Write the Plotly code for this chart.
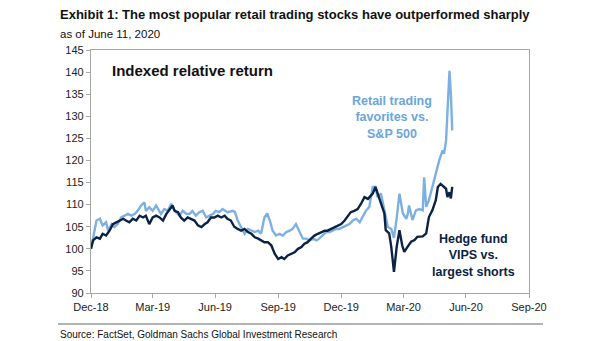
import plotly.graph_objects as go

# ---------------- data ----------------
retail_dates = [
    "2018-12-31", "2019-01-08", "2019-01-13", "2019-01-17", "2019-01-22", "2019-01-25", "2019-01-30",
    "2019-02-03", "2019-02-08", "2019-02-13", "2019-02-18", "2019-02-23", "2019-02-28", "2019-03-05",
    "2019-03-09", "2019-03-14", "2019-03-19", "2019-03-21", "2019-03-26", "2019-03-31", "2019-04-05",
    "2019-04-08", "2019-04-12", "2019-04-17", "2019-04-22", "2019-04-27", "2019-04-29", "2019-05-04",
    "2019-05-09", "2019-05-14", "2019-05-19", "2019-05-24", "2019-05-28", "2019-06-02", "2019-06-07",
    "2019-06-12", "2019-06-17", "2019-06-22", "2019-06-27", "2019-07-01", "2019-07-06", "2019-07-11",
    "2019-07-18", "2019-07-26", "2019-07-29", "2019-08-02", "2019-08-07", "2019-08-12", "2019-08-17",
    "2019-08-22", "2019-08-27", "2019-09-01", "2019-09-05", "2019-09-10", "2019-09-14", "2019-09-18",
    "2019-09-22", "2019-09-27", "2019-10-02", "2019-10-07", "2019-10-12", "2019-10-17", "2019-10-21",
    "2019-10-26", "2019-10-31", "2019-11-05", "2019-11-10", "2019-11-15", "2019-11-20", "2019-11-25",
    "2019-11-29", "2019-12-04", "2019-12-09", "2019-12-14", "2019-12-19", "2019-12-24", "2019-12-28",
    "2020-01-02", "2020-01-07", "2020-01-12", "2020-01-17", "2020-01-22", "2020-01-27", "2020-01-31",
    "2020-02-05", "2020-02-10", "2020-02-15", "2020-02-19", "2020-02-22", "2020-02-27", "2020-03-03",
    "2020-03-08", "2020-03-13", "2020-03-17", "2020-03-21", "2020-03-25", "2020-03-30", "2020-04-04",
    "2020-04-06", "2020-04-08", "2020-04-13", "2020-04-18", "2020-04-23", "2020-04-28", "2020-04-30",
    "2020-05-03", "2020-05-07", "2020-05-12", "2020-05-17", "2020-05-22", "2020-05-27", "2020-05-29",
    "2020-06-01", "2020-06-03", "2020-06-06", "2020-06-08", "2020-06-10",
]
retail_values = [
    100.0, 106.4, 106.8, 105.3, 106.0, 104.1, 105.6,
    104.9, 105.6, 107.1, 107.5, 107.9, 107.5, 107.9,
    108.6, 109.8, 110.5, 108.6, 109.4, 108.6, 109.8,
    109.0, 107.9, 109.0, 108.6, 110.2, 109.4, 108.3,
    107.5, 108.6, 107.9, 107.9, 108.6, 107.5, 108.3,
    108.6, 107.1, 107.5, 107.9, 108.6, 108.3, 109.0,
    108.3, 108.6, 108.3, 106.4, 104.9, 103.4, 104.5,
    104.1, 103.8, 104.1, 103.4, 107.1, 108.0, 106.4,
    104.1, 103.0, 103.4, 103.0, 103.8, 104.1, 104.5,
    105.6, 103.8, 102.3, 102.3, 101.9, 102.3, 101.9,
    102.3, 103.0, 103.8, 103.8, 104.1, 104.5, 104.5,
    104.9, 105.3, 105.6, 106.4, 106.8, 106.0, 107.1,
    108.6, 109.5, 114.0, 114.0, 111.7, 112.5, 108.7,
    105.0, 104.5, 102.5, 107.0, 112.5, 108.0, 106.8,
    107.8, 109.8, 106.5, 108.7, 109.0, 108.7, 116.2,
    109.5, 111.0, 114.0, 117.0, 120.0, 122.3, 121.5,
    124.5, 131.3, 140.3, 135.0, 126.8,
]

hedge_dates = [
    "2018-12-31", "2019-01-03", "2019-01-08", "2019-01-13", "2019-01-17", "2019-01-22", "2019-01-27",
    "2019-02-01", "2019-02-06", "2019-02-11", "2019-02-16", "2019-02-20", "2019-02-25", "2019-03-02",
    "2019-03-07", "2019-03-12", "2019-03-17", "2019-03-21", "2019-03-26", "2019-03-31", "2019-04-05",
    "2019-04-10", "2019-04-15", "2019-04-20", "2019-04-25", "2019-04-29", "2019-05-02", "2019-05-07",
    "2019-05-11", "2019-05-16", "2019-05-21", "2019-05-26", "2019-05-31", "2019-06-05", "2019-06-10",
    "2019-06-15", "2019-06-19", "2019-06-24", "2019-06-29", "2019-07-04", "2019-07-09", "2019-07-14",
    "2019-07-18", "2019-07-23", "2019-07-28", "2019-08-02", "2019-08-07", "2019-08-12", "2019-08-17",
    "2019-08-22", "2019-08-27", "2019-09-01", "2019-09-05", "2019-09-10", "2019-09-15", "2019-09-20",
    "2019-09-25", "2019-09-30", "2019-10-05", "2019-10-09", "2019-10-14", "2019-10-19", "2019-10-24",
    "2019-10-29", "2019-11-03", "2019-11-07", "2019-11-12", "2019-11-17", "2019-11-22", "2019-11-27",
    "2019-12-02", "2019-12-07", "2019-12-11", "2019-12-16", "2019-12-21", "2019-12-26", "2019-12-31",
    "2020-01-05", "2020-01-10", "2020-01-14", "2020-01-19", "2020-01-24", "2020-01-29", "2020-02-03",
    "2020-02-08", "2020-02-15", "2020-02-19", "2020-02-22", "2020-02-27", "2020-03-03", "2020-03-05",
    "2020-03-10", "2020-03-13", "2020-03-17", "2020-03-21", "2020-03-25", "2020-03-29", "2020-04-01",
    "2020-04-06", "2020-04-11", "2020-04-16", "2020-04-20", "2020-04-28", "2020-05-03", "2020-05-07",
    "2020-05-12", "2020-05-17", "2020-05-20", "2020-05-24", "2020-05-29", "2020-06-01", "2020-06-03",
    "2020-06-06", "2020-06-08", "2020-06-10",
]
hedge_values = [
    100.0, 101.9, 102.6, 102.3, 103.4, 103.0, 104.1,
    105.6, 106.0, 106.4, 106.8, 106.4, 106.0, 106.8,
    106.4, 107.5, 107.1, 107.5, 105.6, 107.1, 107.5,
    107.1, 106.4, 107.9, 109.0, 109.8, 108.6, 108.3,
    107.1, 106.4, 107.1, 106.8, 106.4, 105.3, 104.9,
    105.6, 106.0, 107.1, 107.1, 107.5, 107.1, 107.5,
    106.8, 106.4, 105.0, 104.5, 104.1, 104.5, 103.8,
    103.4, 102.6, 102.3, 101.9, 101.5, 101.5, 100.8,
    98.9, 97.7, 98.1, 97.7, 98.5, 98.9, 99.2,
    100.0, 100.4, 101.1, 101.5, 102.3, 103.0, 103.4,
    103.8, 104.1, 104.1, 104.5, 104.9, 105.3, 105.6,
    106.4, 107.5, 108.3, 108.6, 109.0, 110.2, 111.7,
    111.3, 112.5, 114.0, 112.5, 110.2, 108.0, 104.2,
    103.5, 100.5, 94.8, 100.5, 104.2, 100.8, 99.3,
    100.5, 101.6, 102.0, 102.7, 102.8, 103.5, 107.2,
    108.7, 111.0, 114.0, 114.7, 114.0, 113.6, 111.7,
    112.8, 111.4, 114.0,
]

tick_dates = ["2018-12-31", "2019-03-31", "2019-06-30", "2019-09-30",
              "2019-12-31", "2020-03-31", "2020-06-30", "2020-09-30"]
tick_labels = ["Dec-18", "Mar-19", "Jun-19", "Sep-19", "Dec-19", "Mar-20", "Jun-20", "Sep-20"]

title_text = "Exhibit 1: The most popular retail trading stocks have outperformed sharply"
subtitle_text = "as of June 11, 2020"
inner_title = "Indexed relative return"
retail_label = "Retail trading<br>favorites vs.<br>S&amp;P 500"
hedge_label = "Hedge fund<br>VIPS vs.<br>largest shorts"
source_text = "Source: FactSet, Goldman Sachs Global Investment Research"

# ---------------- styling ----------------
W, H = 605, 341
L, R, T, B = 91, 529, 50, 293
LIGHT = "#7CB0E3"
LIGHT_TXT = "#6AA5DD"
NAVY = "#0C2244"
FONT = "Arial, 'Liberation Sans', sans-serif"
AXIS = "#A6A6A6"


def px(x):
    return (x - L) / (R - L)


def py(y):
    return (B - y) / (B - T)


fig = go.Figure()
fig.add_trace(go.Scatter(x=retail_dates, y=retail_values, mode="lines",
                         line=dict(color=LIGHT, width=2.4), hoverinfo="skip"))
fig.add_trace(go.Scatter(x=hedge_dates, y=hedge_values, mode="lines",
                         line=dict(color=NAVY, width=2.4), hoverinfo="skip"))

fig.update_layout(
    width=W, height=H, showlegend=False,
    margin=dict(l=L, r=W - R, t=T, b=H - B, pad=0),
    paper_bgcolor="white", plot_bgcolor="white",
    font=dict(family=FONT, size=11, color="#222222"),
    xaxis=dict(
        type="date", range=["2018-12-31", "2020-09-30"],
        tickmode="array", tickvals=tick_dates, ticktext=tick_labels,
        showgrid=False, zeroline=False,
        showline=True, linecolor=AXIS, linewidth=1.3, mirror=True,
        ticks="outside", ticklen=4, tickcolor=AXIS, tickwidth=1,
        tickfont=dict(size=11, color="#222222"),
    ),
    yaxis=dict(
        range=[90, 145], tickmode="linear", tick0=90, dtick=5,
        showgrid=False, zeroline=False,
        showline=True, linecolor=AXIS, linewidth=1.3, mirror=True,
        ticks="outside", ticklen=4, tickcolor=AXIS, tickwidth=1,
        tickfont=dict(size=11, color="#222222"),
    ),
)

ann = []
ann.append(dict(text="<b>" + title_text + "</b>", x=px(58), y=py(14.5), xanchor="left", yanchor="middle",
                font=dict(size=13, color="#111111", family=FONT)))
ann.append(dict(text=subtitle_text, x=px(58), y=py(34), xanchor="left", yanchor="middle",
                font=dict(size=11.5, color="#111111", family=FONT)))
ann.append(dict(text="<b>" + inner_title + "</b>", x=px(110), y=py(70.5), xanchor="left", yanchor="middle",
                font=dict(size=15, color="#111111", family=FONT)))
ann.append(dict(text="<b>" + retail_label + "</b>", x=px(392), y=py(118), xanchor="center", yanchor="middle",
                align="center", font=dict(size=12.5, color=LIGHT_TXT, family=FONT)))
ann.append(dict(text="<b>" + hedge_label + "</b>", x=px(473), y=py(255), xanchor="center", yanchor="middle",
                align="center", font=dict(size=12.5, color=NAVY, family=FONT)))
ann.append(dict(text=source_text, x=px(58), y=py(335), xanchor="left", yanchor="middle",
                font=dict(size=10, color="#111111", family=FONT)))
for a in ann:
    a.update(xref="paper", yref="paper", showarrow=False)
fig.update_layout(annotations=ann)

fig.add_shape(type="line", xref="paper", yref="paper",
              x0=px(58), x1=px(543), y0=py(324), y1=py(324),
              line=dict(color="#9A9A9A", width=1.5))

fig.write_html("out.html")
